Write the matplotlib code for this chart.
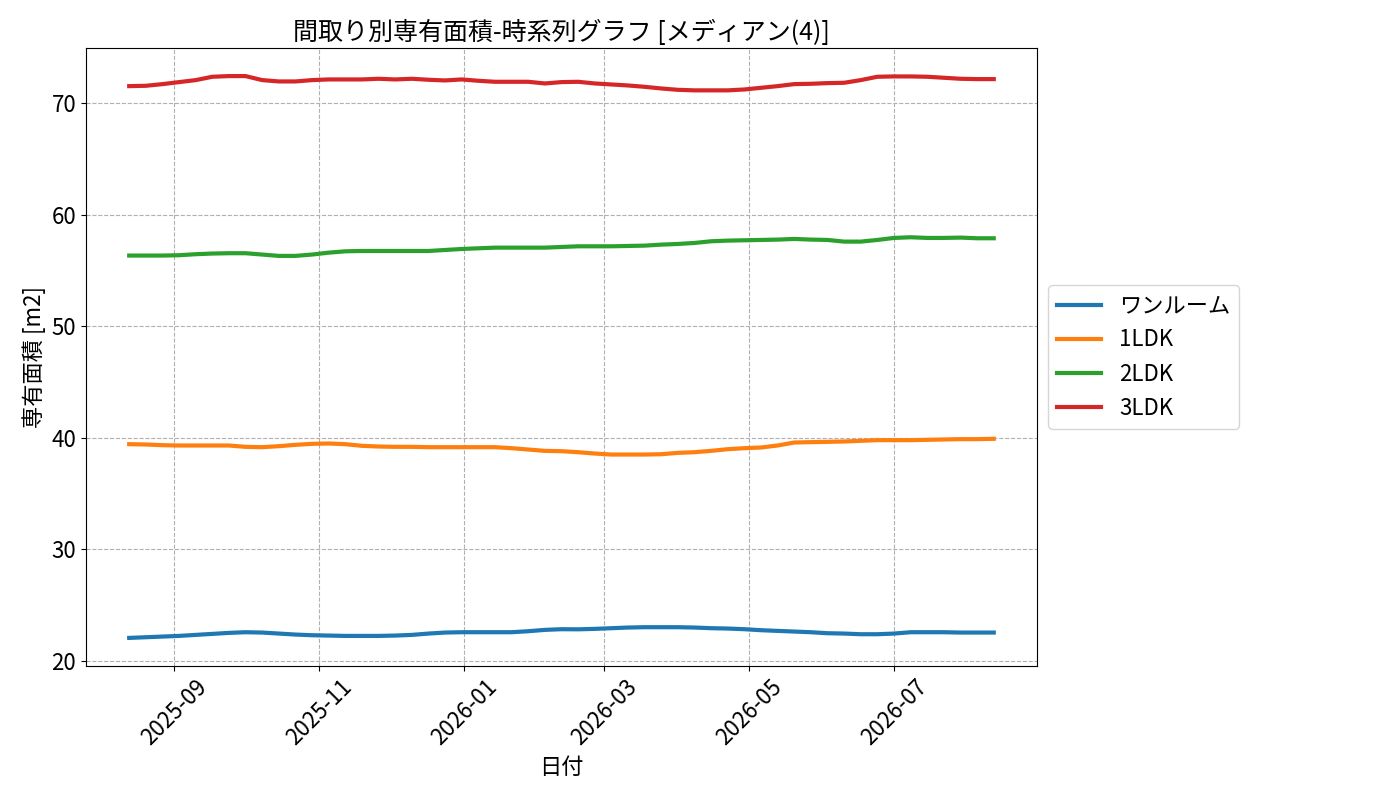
import matplotlib
matplotlib.use("Agg")
import matplotlib.pyplot as plt
import matplotlib.dates as mdates
import pandas as pd

plt.rcParams["font.family"] = ["Noto Sans CJK JP", "DejaVu Sans"]

# weekly medians
dates = pd.date_range("2025-08-13", periods=53, freq="7D")

one_room = [22.05, 22.11, 22.17, 22.23, 22.32, 22.41, 22.50, 22.56, 22.53, 22.44,
            22.35, 22.29, 22.26, 22.23, 22.23, 22.23, 22.26, 22.32, 22.44, 22.53,
            22.56, 22.56, 22.56, 22.56, 22.65, 22.77, 22.83, 22.82, 22.86, 22.92,
            22.98, 23.01, 23.01, 23.01, 22.98, 22.92, 22.89, 22.83, 22.74, 22.68,
            22.62, 22.56, 22.47, 22.44, 22.38, 22.38, 22.44, 22.56, 22.56, 22.56,
            22.53, 22.53, 22.53]
ldk1 = [39.42, 39.39, 39.33, 39.30, 39.30, 39.30, 39.30, 39.18, 39.15, 39.24,
        39.36, 39.45, 39.48, 39.42, 39.27, 39.21, 39.18, 39.18, 39.15, 39.15,
        39.15, 39.15, 39.15, 39.06, 38.94, 38.82, 38.79, 38.70, 38.58, 38.49,
        38.49, 38.49, 38.52, 38.64, 38.70, 38.82, 38.97, 39.06, 39.12, 39.30,
        39.57, 39.60, 39.63, 39.66, 39.72, 39.78, 39.78, 39.78, 39.81, 39.84,
        39.87, 39.87, 39.90]
ldk2 = [56.33, 56.33, 56.33, 56.36, 56.45, 56.51, 56.54, 56.54, 56.42, 56.30,
        56.30, 56.42, 56.59, 56.71, 56.74, 56.74, 56.74, 56.74, 56.74, 56.83,
        56.92, 56.98, 57.04, 57.04, 57.04, 57.04, 57.10, 57.16, 57.16, 57.16,
        57.19, 57.22, 57.31, 57.37, 57.46, 57.61, 57.67, 57.70, 57.73, 57.76,
        57.82, 57.76, 57.73, 57.58, 57.58, 57.73, 57.91, 57.97, 57.91, 57.91,
        57.94, 57.88, 57.88]
ldk3 = [71.52, 71.55, 71.70, 71.88, 72.06, 72.36, 72.42, 72.42, 72.06, 71.94,
        71.94, 72.06, 72.12, 72.12, 72.12, 72.18, 72.12, 72.18, 72.09, 72.03,
        72.12, 72.00, 71.91, 71.91, 71.91, 71.76, 71.88, 71.91, 71.76, 71.67,
        71.58, 71.46, 71.31, 71.19, 71.14, 71.14, 71.14, 71.22, 71.37, 71.52,
        71.70, 71.73, 71.79, 71.82, 72.06, 72.36, 72.39, 72.39, 72.36, 72.27,
        72.18, 72.15, 72.15]

series = [("ワンルーム", one_room), ("1LDK", ldk1), ("2LDK", ldk2), ("3LDK", ldk3)]

fig = plt.figure(figsize=(14, 8), dpi=100)
ax = fig.add_axes([0.0614, 0.1675, 0.6793, 0.7725])
for name, vals in series:
    ax.plot(dates, vals, lw=3, label=name)

ax.set_title("間取り別専有面積-時系列グラフ [メディアン(4)]", fontsize=18)
ax.set_xlabel("日付", fontsize=16)
ax.set_ylabel("専有面積 [m2]", fontsize=16)
ax.xaxis.set_major_locator(mdates.MonthLocator(bymonth=[1, 3, 5, 7, 9, 11]))
ax.xaxis.set_major_formatter(mdates.DateFormatter("%Y-%m"))
ax.tick_params(labelsize=16)
plt.setp(ax.get_xticklabels(), rotation=45)
ax.grid(True, ls="--", color="#b0b0b0", lw=0.8)
ax.legend(loc="center left", bbox_to_anchor=(1.0, 0.5), fontsize=16)

fig.savefig("out.png", dpi=100)
